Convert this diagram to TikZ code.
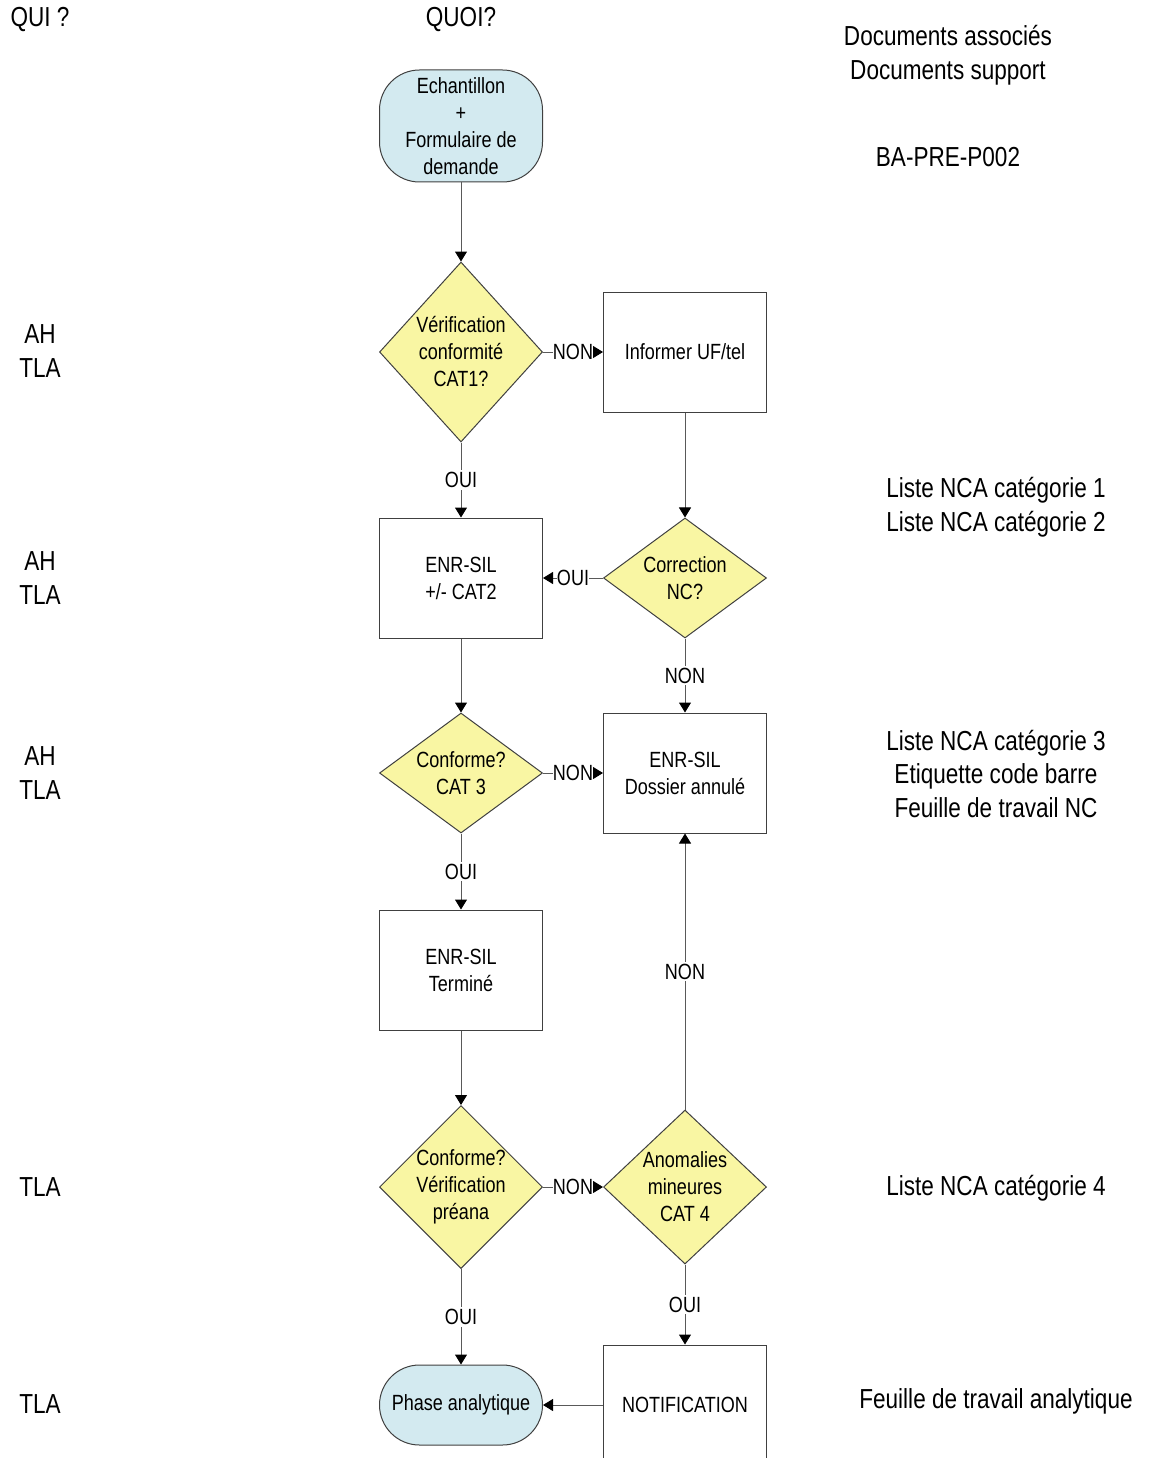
\documentclass[tikz,border=0pt]{standalone}
\usepackage{fontspec}
\setmainfont{Liberation Sans}[FakeStretch=0.82]
\usetikzlibrary{arrows.meta, shapes.geometric}

\definecolor{decisionyellow}{HTML}{F9F6A3}
\definecolor{terminalblue}{HTML}{D3EAF0}

\begin{document}
\begin{tikzpicture}[x=1pt, y=-1pt,
    every node/.style={font=\fontsize{22}{27}\selectfont},
    shapeline/.style={draw=black!75, line width=1pt},
    flow/.style={draw=black!65, line width=1pt, -{Triangle[length=10pt,width=12pt,color=black]}},
    box/.style={shapeline, rectangle, minimum width=163pt, minimum height=120pt, align=center, inner sep=0pt},
    decision/.style={shapeline, diamond, fill=decisionyellow, minimum width=163pt, minimum height=#1, inner sep=0pt},
    terminal/.style={shapeline, rectangle, rounded corners=40pt, fill=terminalblue, minimum width=163pt, align=center, inner sep=0pt},
    dtext/.style={align=center, inner sep=0pt},
    answer/.style={fill=white, inner xsep=0pt, inner ysep=2pt},
    side/.style={font=\fontsize{27.5}{33.5}\selectfont, align=center}
]
    \path[use as bounding box, clip] (0,0) rectangle (1152,1458);

    % Column headers
    \node[side] (qui) at (40,20) {QUI ?};
    \node[side] (quoi) at (461,20) {QUOI?};
    \node[side] (docs) at (948,55) {Documents associés\\Documents support};
    \node[side] (proc) at (948,157) {BA-PRE-P002};

    % Who does it
    \node[side] (qui1) at (40,351) {AH\\TLA};
    \node[side] (qui2) at (40,578) {AH\\TLA};
    \node[side] (qui3) at (40,773) {AH\\TLA};
    \node[side] (qui4) at (40,1187) {TLA};
    \node[side] (qui5) at (40,1404) {TLA};

    % Documents used
    \node[side] (doc12) at (996,507) {Liste NCA catégorie 1\\Liste NCA catégorie 2};
    \node[side] (doc3) at (996,774) {Liste NCA catégorie 3\\Etiquette code barre\\Feuille de travail NC};
    \node[side] (doc4) at (996,1188) {Liste NCA catégorie 4};
    \node[side] (docana) at (996,1401) {Feuille de travail analytique};

    % Left column: main path
    \node[terminal, minimum height=112pt] (start) at (461,126) {Echantillon\\+\\Formulaire de\\demande};
    \node[decision=180pt, label={[dtext]center:{Vérification\\conformité\\CAT1?}}] (cat1) at (461,352) {};
    \node[box] (cat2) at (461,578) {ENR-SIL\\+/- CAT2};
    \node[decision=120pt, label={[dtext]center:{Conforme?\\CAT 3}}] (cat3) at (461,773) {};
    \node[box] (termine) at (461,970) {ENR-SIL\\Terminé};
    \node[decision=163pt, label={[dtext]center:{Conforme?\\Vérification\\préana}}] (preana) at (461,1187) {};
    \node[terminal, minimum height=80pt] (analytique) at (461,1405) {Phase analytique};

    % Right column: non conformities
    \node[box] (informer) at (685,352) {Informer UF/tel};
    \node[decision=120pt, label={[dtext]center:{Correction\\NC?}}] (correction) at (685,578) {};
    \node[box] (annule) at (685,773) {ENR-SIL\\Dossier annulé};
    \node[decision=154pt, label={[dtext]center:{Anomalies\\mineures\\CAT 4}}] (cat4) at (685,1187) {};
    \node[box] (notif) at (685,1405) {NOTIFICATION};

    % Connectors
    \draw[flow] (start) -- (cat1);
    \draw[flow] (cat1) -- node[answer] {NON} (informer);
    \draw[flow] (cat1) -- node[answer] {OUI} (cat2);
    \draw[flow] (informer) -- (correction);
    \draw[flow] (correction) -- node[answer] {OUI} (cat2);
    \draw[flow] (correction) -- node[answer] {NON} (annule);
    \draw[flow] (cat2) -- (cat3);
    \draw[flow] (cat3) -- node[answer] {NON} (annule);
    \draw[flow] (cat3) -- node[answer] {OUI} (termine);
    \draw[flow] (termine) -- (preana);
    \draw[flow] (preana) -- node[answer] {NON} (cat4);
    \draw[flow] (preana) -- node[answer] {OUI} (analytique);
    \draw[flow] (cat4) -- node[answer] {NON} (annule);
    \draw[flow] (cat4) -- node[answer] {OUI} (notif);
    \draw[flow] (notif) -- (analytique);
\end{tikzpicture}
\end{document}
